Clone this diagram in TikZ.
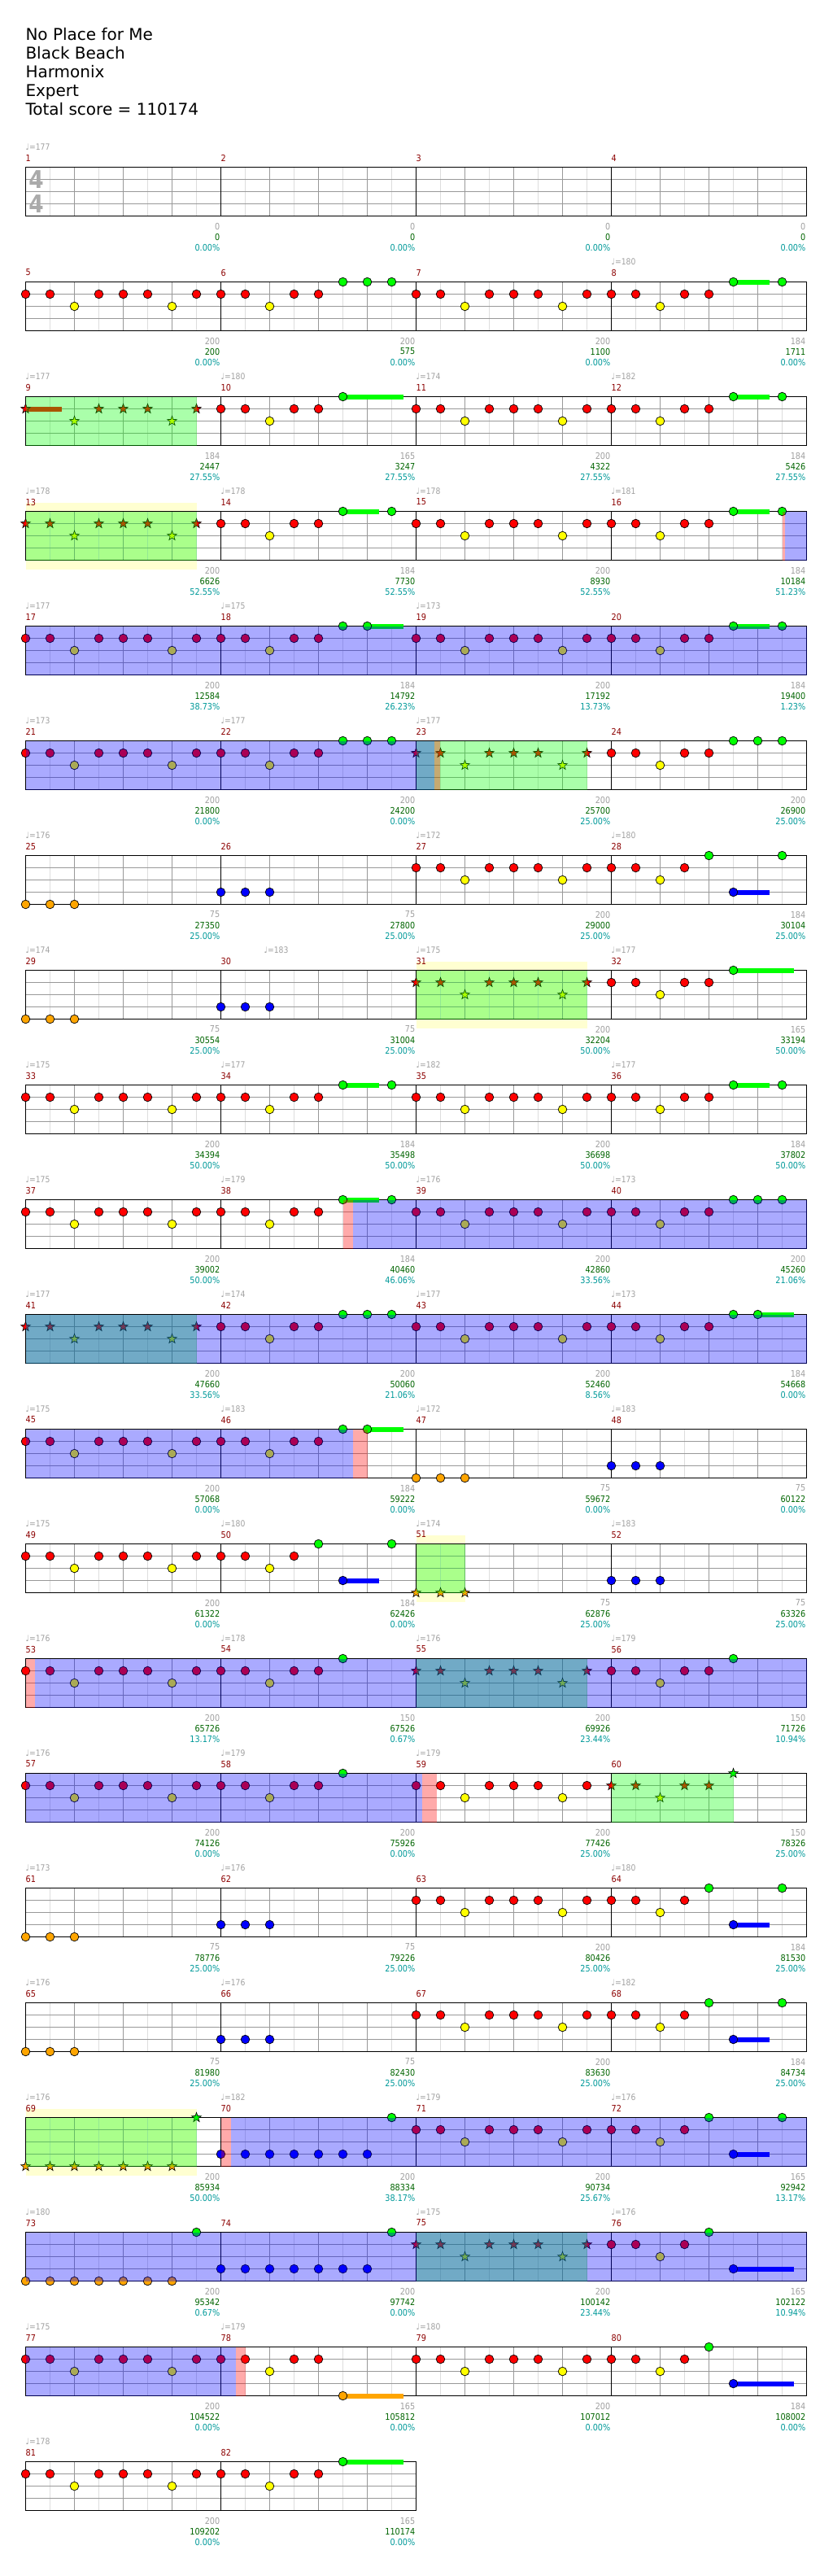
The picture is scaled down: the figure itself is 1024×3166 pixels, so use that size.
\documentclass[tikz,border=0pt]{standalone}
\usepackage{fontspec}
\setmainfont{DejaVu Sans}
\newfontfamily\chSmall[FakeStretch=0.88]{DejaVu Sans}
\usetikzlibrary{shapes.geometric}
\definecolor{chLane0}{HTML}{00FF00}
\definecolor{chLane1}{HTML}{FF0000}
\definecolor{chLane2}{HTML}{FFFF00}
\definecolor{chLane3}{HTML}{0000FF}
\definecolor{chLane4}{HTML}{FFA500}
\definecolor{chGridBeat}{HTML}{999999}
\definecolor{chGridFine}{HTML}{DDDDDD}
\definecolor{chBarNum}{HTML}{8B0000}
\definecolor{chTempo}{HTML}{A0A0A0}
\definecolor{chScore}{HTML}{006400}
\definecolor{chPct}{HTML}{009999}
\definecolor{chTimeSig}{HTML}{AAAAAA}

% --- NOTE PATTERNS: position (eighths) / lane / sustain end / star ---
\def\chPatA{0/1/0/0,1/1/0/0,2/2/0/0,3/1/0/0,4/1/0/0,5/1/0/0,6/2/0/0,7/1/0/0}
\def\chPatB{0/1/0/0,1/1/0/0,2/2/0/0,3/1/0/0,4/1/0/0,5/0/6.47/0,7/0/0/0}
\def\chPatC{0/1/0/0,1/1/0/0,2/2/0/0,3/1/0/0,4/1/0/0,5/0/0/0,6/0/0/0,7/0/0/0}
\def\chPatD{0/1/0/0,1/1/0/0,2/2/0/0,3/1/0/0,4/0/0/0,5/3/6.47/0,7/0/0/0}
\def\chPatE{0/1/0/0,1/1/0/0,2/2/0/0,3/1/0/0,4/1/0/0,5/0/0/0,6/0/7.48/0}
\def\chPatF{0/1/0/0,1/1/0/0,2/2/0/0,3/1/0/0,4/1/0/0,5/0/7.48/0}
\def\chPatG{0/1/0/0,1/1/0/0,2/2/0/0,3/1/0/0,4/1/0/0,5/0/0/0}
\def\chPatH{0/1/0/0,1/1/0/0,2/2/0/0,3/1/0/0,4/0/0/0,5/3/7.48/0}
\def\chPatS{0/1/0/1,1/1/0/1,2/2/0/1,3/1/0/1,4/1/0/1,5/1/0/1,6/2/0/1,7/1/0/1}
\def\chPatT{0/1/1.49/1,2/2/0/1,3/1/0/1,4/1/0/1,5/1/0/1,6/2/0/1,7/1/0/1}
\def\chPatU{0/1/0/1,1/1/0/1,2/2/0/1,3/1/0/1,4/1/0/1,5/0/0/1}
\def\chPatO{0/4/0/0,1/4/0/0,2/4/0/0}
\def\chPatL{0/3/0/0,1/3/0/0,2/3/0/0}
\def\chPatQ{0/4/0/1,1/4/0/1,2/4/0/1}
\def\chPatV{0/4/0/1,1/4/0/1,2/4/0/1,3/4/0/1,4/4/0/1,5/4/0/1,6/4/0/1,7/0/0/1}
\def\chPatW{0/3/0/0,1/3/0/0,2/3/0/0,3/3/0/0,4/3/0/0,5/3/0/0,6/3/0/0,7/0/0/0}
\def\chPatX{0/4/0/0,1/4/0/0,2/4/0/0,3/4/0/0,4/4/0/0,5/4/0/0,6/4/0/0,7/0/0/0}
\def\chPatY{0/1/0/0,1/1/0/0,2/2/0/0,3/1/0/0,4/1/0/0,5/4/7.48/0}

% measure origin from its number
\newcommand\chMeasXY[1]{%
  \pgfmathtruncatemacro\chRow{(#1-1)/4}%
  \pgfmathtruncatemacro\chCol{mod(#1-1,4)}%
  \pgfmathsetmacro\mx{\xO+\chCol*\measW}%
  \pgfmathsetmacro\my{\yO+\chRow*\rowH}}

\begin{document}
\begin{tikzpicture}[x=1pt,y=-1pt,
  gridfine/.style={draw=chGridFine, line width=1},
  gridbeat/.style={draw=chGridBeat, line width=1},
  staffline/.style={draw=black, line width=1},
  gem/.style={draw=black, line width=0.7},
  stargem/.style={star, star points=5, star point ratio=2.5, minimum size=12.5,
    inner sep=0, draw=black, line width=0.6},
  sustain/.style={line width=6},
  odband/.style={fill=chLane0, fill opacity=0.333},
  actband/.style={fill=chLane3, fill opacity=0.333},
  missband/.style={fill=chLane1, fill opacity=0.333},
  unisonband/.style={fill=chLane2, fill opacity=0.18},
  titlelab/.style={anchor=base west, inner sep=0, font=\fontsize{20}{20}\selectfont},
  tempolab/.style={anchor=west, inner sep=0, text=chTempo, font=\chSmall\fontsize{10.5}{10.5}\selectfont},
  barlab/.style={anchor=west, inner sep=0, text=chBarNum, font=\chSmall\fontsize{11}{11}\selectfont},
  baselab/.style={anchor=east, inner sep=0, text=chTempo, font=\chSmall\fontsize{11}{11}\selectfont},
  scorelab/.style={baselab, text=chScore},
  pctlab/.style={baselab, text=chPct},
  tslab/.style={inner sep=0, text=chTimeSig, font=\chSmall\fontsize{30}{30}\selectfont\bfseries}
]

% --- PARAMETERS ---
\def\xO{31.5}      % left edge of the staves
\def\yO{205.5}     % top line of the first stave
\def\measW{240}    % measure width
\def\slotW{30}     % eighth note
\def\laneH{15}     % lane spacing
\def\staffH{60}    % stave height
\def\rowH{141}     % stave pitch

\useasboundingbox (0,0) rectangle (1024,3166);

% --- TITLE ---
\foreach [count=\i] \txt in {No Place for Me,Black Beach,Harmonix,Expert,Total score = 110174} {
  \node[titlelab] (title\i) at (31.3, 49.3+23.1*\i-23.1) {\txt};
}

% --- UNISON BANDS (behind the staves) ---
\foreach \m/\pA/\pB in {13/0/7, 31/0/7, 51/0/2, 69/0/7} {
  \chMeasXY{\m}
  \fill[unisonband] (\mx+\pA*\slotW,\my-10.5) rectangle (\mx+\pB*\slotW,\my+71);
}

% --- STAFF GRID ---
\foreach \m in {1,...,82} {
  \chMeasXY{\m}
  \foreach \i in {1,3,5,7} \draw[gridfine] (\mx+\i*\slotW,\my) -- ++(0,\staffH);
  \foreach \i in {2,4,6} \draw[gridbeat] (\mx+\i*\slotW,\my) -- ++(0,\staffH);
  \foreach \j in {1,2,3} \draw[gridbeat] (\mx,\my+\j*\laneH) -- ++(\measW,0);
}
\foreach \m in {1,...,82} {
  \chMeasXY{\m}
  \draw[staffline] (\mx,\my) rectangle ++(\measW,\staffH);
}

% time signature
\node[tslab] (tsTop) at (44.5,220.5) {4};
\node[tslab] (tsBot) at (44.5,250.5) {4};

% --- NOTES ---
\def\chNotes{5/A,6/C,7/A,8/B,9/T,10/F,11/A,12/B,13/S,14/B,15/A,16/B,%
  17/A,18/E,19/A,20/B,21/A,22/C,23/S,24/C,25/O,26/L,27/A,28/D,%
  29/O,30/L,31/S,32/F,33/A,34/B,35/A,36/B,37/A,38/B,39/A,40/C,%
  41/S,42/C,43/A,44/E,45/A,46/E,47/O,48/L,49/A,50/D,51/Q,52/L,%
  53/A,54/G,55/S,56/G,57/A,58/G,59/A,60/U,61/O,62/L,63/A,64/D,%
  65/O,66/L,67/A,68/D,69/V,70/W,71/A,72/D,73/X,74/W,75/S,76/H,%
  77/A,78/Y,79/A,80/H,81/A,82/F}
\foreach \m/\pat in \chNotes {
  \chMeasXY{\m}
  \edef\chCur{\csname chPat\pat\endcsname}
  \foreach \p/\l/\s/\k in \chCur {
    \pgfmathsetmacro\nx{\mx+\p*\slotW}
    \pgfmathsetmacro\ny{\my+\l*\laneH}
    \ifdim\s pt>0pt
      \draw[sustain, draw=chLane\l] (\nx,\ny) -- (\mx+\s*\slotW,\ny);
    \fi
    \ifnum\k=1
      \node[stargem, fill=chLane\l] (star\m-\p) at (\nx,\ny) {};
    \else
      \draw[gem, fill=chLane\l] (\nx,\ny) circle[radius=5.3];
    \fi
  }
}

% --- OVERDRIVE PHRASES, THEN ACTIVATION BANDS ON TOP ---
\foreach \m/\pA/\pB/\band in {9/0/7/odband, 13/0/7/odband, 23/0/7/odband,
  31/0/7/odband, 41/0/7/odband, 51/0/2/odband, 55/0/7/odband, 60/0/5/odband,
  69/0/7/odband, 75/0/7/odband,
  16/7/7.12/missband, 16/7.12/8/actband, 17/0/32/actband,
  21/0/16.76/actband, 23/0.76/0.98/missband,
  38/5/5.43/missband, 38/5.43/24/actband,
  41/0/32/actband, 45/0/13.43/actband, 46/5.43/6/missband,
  53/0/0.39/missband, 53/0.39/32/actband,
  57/0/16.26/actband, 59/0.26/0.86/missband,
  70/0/0.4/missband, 70/0.4/24/actband, 73/0/32/actband,
  77/0/8.6/actband, 78/0.6/1/missband} {
  \chMeasXY{\m}
  \fill[\band] (\mx+\pA*\slotW,\my) rectangle (\mx+\pB*\slotW,\my+\staffH);
}

% --- TEMPO MARKS ---
\foreach \m/\off/\bpm in {1/0/177,8/0/180,9/0/177,10/0/180,11/0/174,12/0/182,
  13/0/178,14/0/178,15/0/178,16/0/181,17/0/177,18/0/175,19/0/173,21/0/173,
  22/0/177,23/0/177,25/0/176,27/0/172,28/0/180,29/0/174,30/53/183,31/0/175,
  32/0/177,33/0/175,34/0/177,35/0/182,36/0/177,37/0/175,38/0/179,39/0/176,
  40/0/173,41/0/177,42/0/174,43/0/177,44/0/173,45/0/175,46/0/183,47/0/172,
  48/0/183,49/0/175,50/0/180,51/0/174,52/0/183,53/0/176,54/0/178,55/0/176,
  56/0/179,57/0/176,58/0/179,59/0/179,61/0/173,62/0/176,64/0/180,65/0/176,
  66/0/176,68/0/182,69/0/176,70/0/182,71/0/179,72/0/176,73/0/180,75/0/175,
  76/0/176,77/0/175,78/0/179,79/0/180,81/0/178} {
  \chMeasXY{\m}
  \node[tempolab] (tempo\m) at (\mx+\off,\my-24.5) {♩=\bpm};
}

% --- MEASURE NUMBERS ---
\foreach \m in {1,...,82} {
  \chMeasXY{\m}
  \node[barlab] (bar\m) at (\mx,\my-11.5) {\m};
}

% --- MEASURE SCORES (base / total / overdrive) ---
\foreach \m/\base/\score/\pct in {1/0/0/0.00,2/0/0/0.00,3/0/0/0.00,4/0/0/0.00,
  5/200/200/0.00,6/200/575/0.00,7/200/1100/0.00,8/184/1711/0.00,
  9/184/2447/27.55,10/165/3247/27.55,11/200/4322/27.55,12/184/5426/27.55,
  13/200/6626/52.55,14/184/7730/52.55,15/200/8930/52.55,16/184/10184/51.23,
  17/200/12584/38.73,18/184/14792/26.23,19/200/17192/13.73,20/184/19400/1.23,
  21/200/21800/0.00,22/200/24200/0.00,23/200/25700/25.00,24/200/26900/25.00,
  25/75/27350/25.00,26/75/27800/25.00,27/200/29000/25.00,28/184/30104/25.00,
  29/75/30554/25.00,30/75/31004/25.00,31/200/32204/50.00,32/165/33194/50.00,
  33/200/34394/50.00,34/184/35498/50.00,35/200/36698/50.00,36/184/37802/50.00,
  37/200/39002/50.00,38/184/40460/46.06,39/200/42860/33.56,40/200/45260/21.06,
  41/200/47660/33.56,42/200/50060/21.06,43/200/52460/8.56,44/184/54668/0.00,
  45/200/57068/0.00,46/184/59222/0.00,47/75/59672/0.00,48/75/60122/0.00,
  49/200/61322/0.00,50/184/62426/0.00,51/75/62876/25.00,52/75/63326/25.00,
  53/200/65726/13.17,54/150/67526/0.67,55/200/69926/23.44,56/150/71726/10.94,
  57/200/74126/0.00,58/200/75926/0.00,59/200/77426/25.00,60/150/78326/25.00,
  61/75/78776/25.00,62/75/79226/25.00,63/200/80426/25.00,64/184/81530/25.00,
  65/75/81980/25.00,66/75/82430/25.00,67/200/83630/25.00,68/184/84734/25.00,
  69/200/85934/50.00,70/200/88334/38.17,71/200/90734/25.67,72/165/92942/13.17,
  73/200/95342/0.67,74/200/97742/0.00,75/200/100142/23.44,76/165/102122/10.94,
  77/200/104522/0.00,78/165/105812/0.00,79/200/107012/0.00,80/184/108002/0.00,
  81/200/109202/0.00,82/165/110174/0.00} {
  \chMeasXY{\m}
  \node[baselab] (base\m) at (\mx+\measW-1,\my+72.5) {\base};
  \node[scorelab] (score\m) at (\mx+\measW-1,\my+85.5) {\score};
  \node[pctlab] (pct\m) at (\mx+\measW-1,\my+98.5) {\pct\%};
}

\end{tikzpicture}
\end{document}
